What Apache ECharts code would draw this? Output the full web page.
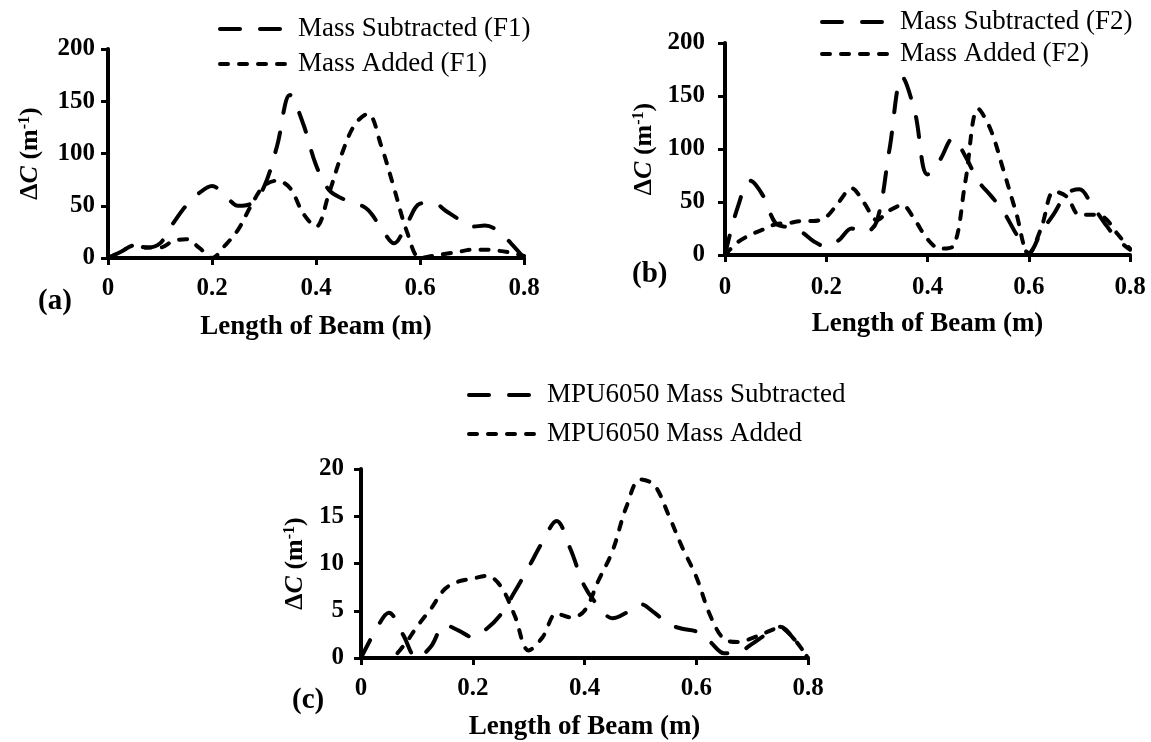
<!DOCTYPE html>
<html>
<head>
<meta charset="utf-8">
<script src="https://cdn.jsdelivr.net/npm/echarts@6/dist/echarts.min.js"></script>
<style>
  html, body { margin: 0; padding: 0; background: #fff; }
  #chart { width: 1151px; height: 742px; }
</style>
</head>
<body>
<div id="chart"></div>
<script>
// positions along the beam (m), same for the three panels
var beamX = [0, 0.025, 0.05, 0.075, 0.1, 0.125, 0.15, 0.175, 0.2, 0.225, 0.25, 0.275, 0.3,
  0.325, 0.35, 0.375, 0.4, 0.425, 0.45, 0.475, 0.5, 0.525, 0.55, 0.575, 0.6,
  0.625, 0.65, 0.675, 0.7, 0.725, 0.75, 0.775, 0.8];

// (a) first mode
var subF1 = [0, 6, 12, 10, 14, 33, 50, 62, 69, 60, 50, 52, 68, 107, 156, 129, 89,
  65, 57, 53, 46, 29, 14, 33, 52, 53, 45, 37, 30, 31, 26, 14, 0];
var addF1 = [0, 6, 12, 10, 10, 16, 18, 10, 0, 12, 27, 50, 69, 74, 67, 43, 30,
  62, 100, 128, 138, 108, 67, 25, 0, 2, 4, 6, 8, 8, 7, 5, 2];

// (b) second mode
var subF2 = [0, 45, 70, 56, 30, 26, 22, 13, 8, 14, 25, 21, 32, 100, 168, 135, 76,
  90, 110, 93, 70, 56, 41, 20, 2, 22, 39, 58, 62, 47, 30, 15, 5];
var addF2 = [0, 12, 19, 24, 29, 30, 32, 32, 36, 50, 63, 49, 33, 42, 47, 33, 15,
  6, 8, 70, 138, 118, 80, 40, 1, 26, 60, 55, 38, 38, 35, 20, 6];

// (c) MPU6050
var subMPU = [0, 2.8, 4.8, 2.5, 0, 1.2, 3.5, 2.9, 2.2, 3.1, 4.6, 7, 9.6, 12.3, 14.5, 11.5, 7.6,
  5.5, 4.2, 4.8, 5.7, 4.8, 3.6, 3.1, 2.8, 1.7, 0.5, 0.6, 1.5, 2.5, 3.3, 2, 0];
var addMPU = [0, 0, 0, 1.2, 3.3, 5.2, 7.3, 8.1, 8.4, 8.7, 7.6, 4.5, 0.8, 2.2, 4.7, 4.3, 5,
  8.2, 11.3, 16, 18.9, 18.3, 15.2, 11.7, 8.6, 4.5, 2, 1.7, 2.1, 2.7, 3.2, 2, 0];

var xTicks = ['0', '0.2', '0.4', '0.6', '0.8'];

var FONT = 'Liberation Serif';
var longDash = [20, 20];
var shortDash = [8, 11];

function pairs(ys) {
  return beamX.map(function (x, i) { return [x, ys[i]]; });
}

function xAxisFor(idx, margin, gap) {
  return {
    gridIndex: idx, type: 'value', min: 0, max: 0.8, interval: 0.2,
    axisLine: { show: true, onZero: false, lineStyle: { color: '#000', width: 4 } },
    axisTick: { show: true, length: 7, lineStyle: { color: '#000', width: 3 } },
    splitLine: { show: false },
    axisLabel: {
      color: '#000', fontFamily: FONT, fontWeight: 'bold', fontSize: 25, margin: margin,
      formatter: function (v) { return xTicks[Math.round(v * 5)] || ''; }
    },
    name: 'Length of Beam (m)', nameLocation: 'middle', nameGap: gap,
    nameTextStyle: { color: '#000', fontFamily: FONT, fontWeight: 'bold', fontSize: 27 }
  };
}

var nameRich = {
  b: { color: '#000', fontFamily: FONT, fontWeight: 'bold', fontSize: 26 },
  i: { color: '#000', fontFamily: FONT, fontWeight: 'bold', fontStyle: 'italic', fontSize: 26 },
  s: { color: '#000', fontFamily: FONT, fontWeight: 'bold', fontSize: 16, verticalAlign: 'top' }
};

function yAxisFor(idx, max, step, margin, gap) {
  return {
    gridIndex: idx, type: 'value', min: 0, max: max, interval: step,
    axisLine: { show: true, onZero: false, lineStyle: { color: '#000', width: 4 } },
    axisTick: { show: true, length: 7, lineStyle: { color: '#000', width: 3 } },
    splitLine: { show: false },
    axisLabel: { color: '#000', fontFamily: FONT, fontWeight: 'bold', fontSize: 25, margin: margin },
    name: '{b|Δ}{i|C}{b| (m}{s|-1}{b|)}', nameLocation: 'middle', nameRotate: 90, nameGap: gap,
    nameTextStyle: { rich: nameRich }
  };
}

function lineSeries(name, idx, ys, dash) {
  return {
    name: name, type: 'line', xAxisIndex: idx, yAxisIndex: idx,
    data: pairs(ys), smooth: 0.35, symbol: 'none', silent: true,
    lineStyle: { color: '#000', width: 4, type: dash, cap: 'round' },
    itemStyle: { color: '#000' }
  };
}

function legendFor(names, left, top, gap) {
  return {
    data: [
      { name: names[0], lineStyle: { width: 4, type: longDash, cap: 'round', color: '#000' } },
      { name: names[1], lineStyle: { width: 4, type: shortDash, cap: 'round', color: '#000' } }
    ],
    orient: 'vertical', left: left, top: top, itemGap: gap, padding: 0,
    itemWidth: 70, itemHeight: 14, selectedMode: false,
    itemStyle: { opacity: 0 },
    textStyle: { color: '#000', fontFamily: FONT, fontSize: 27, lineHeight: 28, padding: [0, 0, 0, 3] }
  };
}

var chart = echarts.init(document.getElementById('chart'), null, { renderer: 'canvas' });
chart.setOption({
  backgroundColor: '#fff',
  animation: false,
  grid: [
    { left: 108, top: 49, width: 416, height: 209 },
    { left: 725, top: 43, width: 405, height: 212 },
    { left: 361, top: 469, width: 447, height: 192 }
  ],
  xAxis: [xAxisFor(0, 18, 56), xAxisFor(1, 20, 56), xAxisFor(2, 18, 56)],
  yAxis: [yAxisFor(0, 200, 50, 13, 65), yAxisFor(1, 200, 50, 20, 68), yAxisFor(2, 20, 5, 17, 53)],
  legend: [
    legendFor(['Mass Subtracted (F1)', 'Mass Added (F1)'], 218, 15, 7),
    legendFor(['Mass Subtracted (F2)', 'Mass Added (F2)'], 820, 8, 4),
    legendFor(['MPU6050 Mass Subtracted', 'MPU6050 Mass Added'], 467, 381, 11)
  ],
  series: [
    lineSeries('Mass Subtracted (F1)', 0, subF1, longDash),
    lineSeries('Mass Added (F1)', 0, addF1, shortDash),
    lineSeries('Mass Subtracted (F2)', 1, subF2, longDash),
    lineSeries('Mass Added (F2)', 1, addF2, shortDash),
    lineSeries('MPU6050 Mass Subtracted', 2, subMPU, longDash),
    lineSeries('MPU6050 Mass Added', 2, addMPU, shortDash)
  ],
  graphic: [
    { type: 'text', left: 38, top: 287, style: { text: '(a)', font: 'bold 29px "Liberation Serif"', fill: '#000' } },
    { type: 'text', left: 632, top: 260, style: { text: '(b)', font: 'bold 29px "Liberation Serif"', fill: '#000' } },
    { type: 'text', left: 292, top: 686, style: { text: '(c)', font: 'bold 29px "Liberation Serif"', fill: '#000' } }
  ]
});
</script>
</body>
</html>
